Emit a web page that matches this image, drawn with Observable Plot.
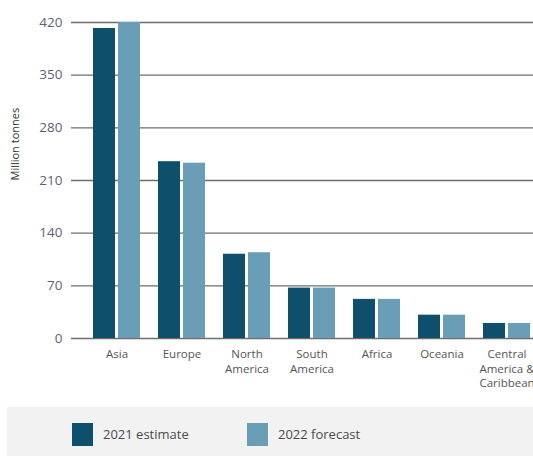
<!DOCTYPE html>
<html>
<head>
<meta charset="utf-8">
<script src="https://cdn.jsdelivr.net/npm/d3@7"></script>
<script src="https://cdn.jsdelivr.net/npm/@observablehq/plot@0.6"></script>
<style>
  body { margin: 0; background: #fff; font-family: "Open Sans", sans-serif; }
  #chart svg { display: block; }
  .legend { position: relative; margin-left: 7px; width: 526px; height: 49px; background: #f2f2f2; }
  .sw { position: absolute; top: 16px; width: 21px; height: 23px; }
  .lt { position: absolute; top: 18px; font-size: 13px; color: #4a4a4a; line-height: 18px; }
</style>
</head>
<body>
<div id="chart"></div>
<div class="legend">
  <div class="sw" id="sw1" style="left:65px"></div><div class="lt" id="lt1" style="left:96px"></div>
  <div class="sw" id="sw2" style="left:240px"></div><div class="lt" id="lt2" style="left:271px"></div>
</div>
<script>
const regions = ["Asia", "Europe", "North America", "South America", "Africa", "Oceania", "Central America & Caribbean"];
const regionLabels = ["Asia", "Europe", "North\nAmerica", "South\nAmerica", "Africa", "Oceania", "Central\nAmerica &\nCaribbean"];
const estimate2021 = [412, 235, 112, 67, 52, 31, 20];
const forecast2022 = [420, 233, 114, 67, 52, 31, 20];
const seriesNames = ["2021 estimate", "2022 forecast"];
const seriesColors = ["#0e4f6b", "#6a9db6"];
const yTicks = [0, 70, 140, 210, 280, 350, 420];
const yLabel = "Million tonnes";

const rows = regions.map((r, i) => ({region: r, label: regionLabels[i], v2021: estimate2021[i], v2022: forecast2022[i]}));
const labelOf = new Map(regions.map((r, i) => [r, regionLabels[i]]));

const chart = Plot.plot({
  width: 533,
  height: 407,
  marginLeft: 71,
  marginRight: 0,
  marginTop: 22,
  marginBottom: 69,
  style: {fontFamily: "'Open Sans', sans-serif", background: "#fff"},
  x: {domain: regions, range: [90, 533], paddingInner: 0.277, paddingOuter: 0.046},
  y: {domain: [0, 420]},
  marks: [
    Plot.ruleY(yTicks, {stroke: "#6e6e6e", strokeWidth: 1.3}),
    Plot.barY(rows, {x: "region", y: "v2021", fill: seriesColors[0], insetRight: 25, insetLeft: 0}),
    Plot.barY(rows, {x: "region", y: "v2022", fill: seriesColors[1], insetLeft: 25, insetRight: 0}),
    Plot.axisY(yTicks, {tickSize: 0, tickPadding: 9, fontSize: 13.5, fill: "#5f5f70", label: null}),
    Plot.axisX({tickSize: 0, tickPadding: 9, fontSize: 11.5, fill: "#555", lineHeight: 1.28, tickFormat: d => labelOf.get(d), label: null}),
    Plot.text([yLabel], {text: d => d, frameAnchor: "left", dx: -56, rotate: -90, fontSize: 11, fill: "#333"})
  ]
});
document.getElementById("chart").appendChild(chart);

document.getElementById("sw1").style.background = seriesColors[0];
document.getElementById("sw2").style.background = seriesColors[1];
document.getElementById("lt1").textContent = seriesNames[0];
document.getElementById("lt2").textContent = seriesNames[1];
</script>
</body>
</html>
